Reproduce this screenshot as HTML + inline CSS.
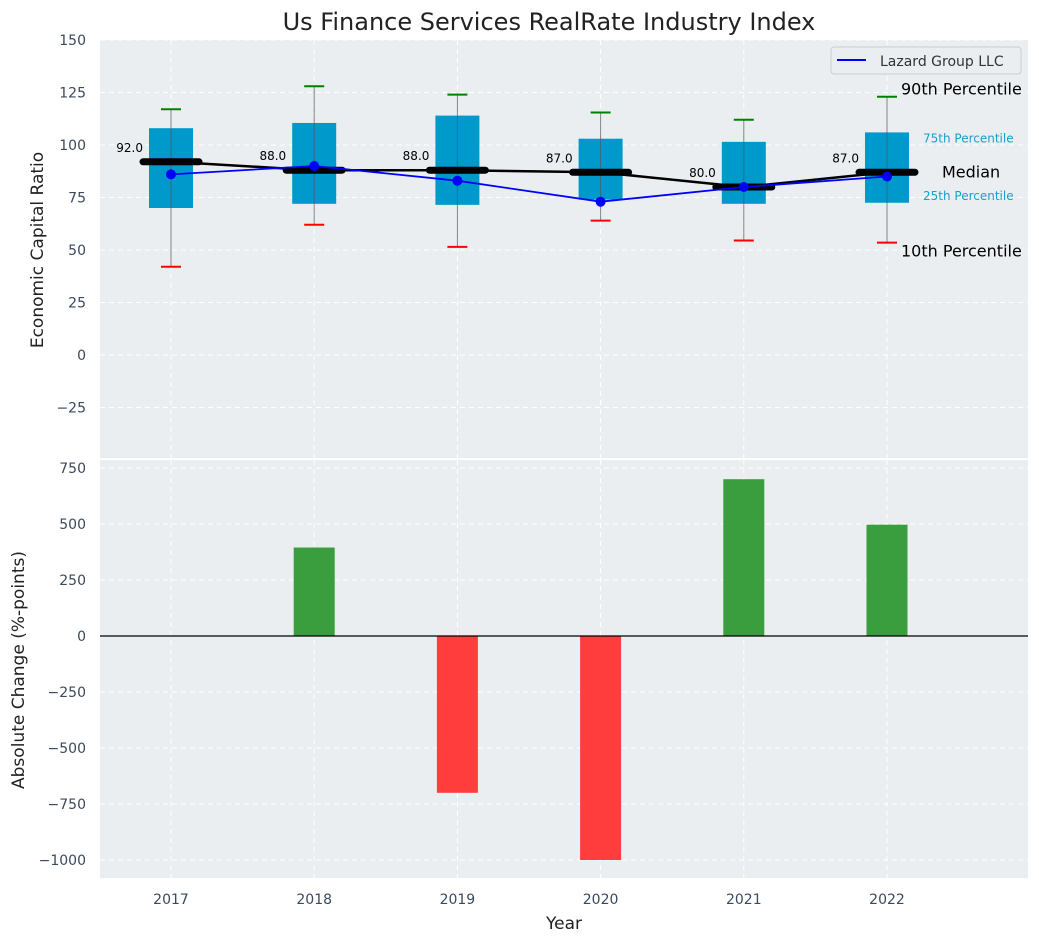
<!DOCTYPE html>
<html><head><meta charset="utf-8"><style>
body{margin:0;background:#fff;}
svg{display:block;font-family:"DejaVu Sans","Liberation Sans",sans-serif;}
</style></head><body>
<svg id="c" width="1039" height="942"></svg>
<script>
const years=["2017","2018","2019","2020","2021","2022"];
const p10=[42,62,51.5,64,54.5,53.5];
const p25=[70,72,71.5,74,72,72.5];
const p75=[108,110.5,114,103,101.5,106];
const p90=[117,128,124,115.5,112,123];
const medians=[92,88,88,87,80,87];
const company=[86,90,83,73,80,85];
const changes=[0,395,-700,-1000,700,497];
const topTicks=[150,125,100,75,50,25,0,-25];
const botTicks=[750,500,250,0,-250,-500,-750,-1000];

const svg=document.getElementById('c');
const NS='http://www.w3.org/2000/svg';
function el(t,a,parent){const e=document.createElementNS(NS,t);for(const k in a)e.setAttribute(k,a[k]);(parent||svg).appendChild(e);return e;}
const X=i=>171+(i)*143.2;
const Y1=v=>355-v*2.1;
const Y2=v=>636-v*0.224;
const L=100,R=1028;

let p=el('rect',{x:L,y:40,width:R-L,height:418,fill:'#eaeef0'});

p=el('rect',{x:L,y:460,width:R-L,height:418,fill:'#eaeef0'});


topTicks.forEach(v=>{el('line',{x1:L,x2:R,y1:Y1(v),y2:Y1(v),stroke:'#fff','stroke-dasharray':'5,4','stroke-width':1});
 const t=el('text',{x:L-14,y:Y1(v)+5,'text-anchor':'end','font-size':14,fill:'#3a4a5e'});t.textContent=(v<0?'\u2212'+(-v):v);
 });
botTicks.forEach(v=>{el('line',{x1:L,x2:R,y1:Y2(v),y2:Y2(v),stroke:'#fff','stroke-dasharray':'5,4','stroke-width':1});
 const t=el('text',{x:L-14,y:Y2(v)+5,'text-anchor':'end','font-size':14,fill:'#3a4a5e'});t.textContent=(v<0?'\u2212'+(-v):v);
 });
years.forEach((y,i)=>{
 el('line',{x1:X(i),x2:X(i),y1:40,y2:458,stroke:'#fff','stroke-dasharray':'5,4'});
 el('line',{x1:X(i),x2:X(i),y1:460,y2:878,stroke:'#fff','stroke-dasharray':'5,4'});
 const t=el('text',{x:X(i),y:904,'text-anchor':'middle','font-size':14,fill:'#3a4a5e'});t.textContent=y;
 
});

years.forEach((y,i)=>{
 const x=X(i);
 const b=el('rect',{x:x-22,y:Y1(p75[i]),width:44,height:Y1(p25[i])-Y1(p75[i]),fill:'#0099cc'});
 
 el('line',{x1:x,x2:x,y1:Y1(p90[i]),y2:Y1(p10[i]),stroke:'#555','stroke-width':1,opacity:0.7});
 el('line',{x1:x-10,x2:x+10,y1:Y1(p90[i]),y2:Y1(p90[i]),stroke:'green','stroke-width':2});
 el('line',{x1:x-10,x2:x+10,y1:Y1(p10[i]),y2:Y1(p10[i]),stroke:'red','stroke-width':2});
});
let d=medians.map((v,i)=>(i?'L':'M')+X(i)+','+Y1(v)).join(' ');
p=el('path',{d:d,stroke:'#000','stroke-width':2.5,fill:'none'});

medians.forEach((v,i)=>{
 const m=el('line',{x1:X(i)-28,x2:X(i)+28,y1:Y1(v),y2:Y1(v),stroke:'#000','stroke-width':7,'stroke-linecap':'round'});
 
 const t=el('text',{x:X(i)-28,y:Y1(v)-10,'text-anchor':'end','font-size':12,fill:'#000'});t.textContent=v.toFixed(1);
 
});
d=company.map((v,i)=>(i?'L':'M')+X(i)+','+Y1(v)).join(' ');
p=el('path',{d:d,stroke:'#0000ff','stroke-width':1.8,fill:'none'});

company.forEach((v,i)=>{const c=el('circle',{cx:X(i),cy:Y1(v),r:5,fill:'#0000ff'});
 });

const ann=[["90th Percentile",901,Y1(p90[5])-2,16,'#000'],["10th Percentile",901,Y1(p10[5])+14,16,'#000'],
["Median",942,Y1(medians[5])+5,16,'#000'],["75th Percentile",923,Y1(p75[5])+10,12,'#1a9fcc'],["25th Percentile",923,Y1(p25[5])-3,12,'#1a9fcc']];
ann.forEach(a=>{const t=el('text',{x:a[1],y:a[2],'font-size':a[3],fill:a[4]});t.textContent=a[0];
 });

const lg=el('g',{});
el('rect',{x:831,y:47,width:190,height:27,rx:3,fill:'#eaeef0',stroke:'#ccc'},lg);
el('line',{x1:837,x2:866,y1:60,y2:60,stroke:'#0000ff','stroke-width':2},lg);
let t=el('text',{x:880,y:66,'font-size':14,fill:'#333'},lg);t.textContent='Lazard Group LLC';

changes.forEach((v,i)=>{
 const r=el('rect',{x:X(i)-20.5,y:Math.min(Y2(v),Y2(0)),width:41,height:Math.abs(Y2(v)-Y2(0)),fill:v>=0?'#3a9e3e':'#ff3d3d'});
 
});
el('line',{x1:L,x2:R,y1:Y2(0),y2:Y2(0),stroke:'#000','stroke-width':1.2});
el('line',{x1:L,x2:R,y1:459,y2:459,stroke:'#fff','stroke-width':2});

t=el('text',{x:549,y:30,'text-anchor':'middle','font-size':24,fill:'#222'});t.textContent='Us Finance Services RealRate Industry Index';

t=el('text',{x:43,y:250,'text-anchor':'middle','font-size':17,fill:'#222',transform:'rotate(-90 43 250)'});t.textContent='Economic Capital Ratio';

t=el('text',{x:24,y:670,'text-anchor':'middle','font-size':17,fill:'#222',transform:'rotate(-90 24 670)'});t.textContent='Absolute Change (%-points)';

t=el('text',{x:564,y:929,'text-anchor':'middle','font-size':17,fill:'#222'});t.textContent='Year';

</script>
</body></html>
